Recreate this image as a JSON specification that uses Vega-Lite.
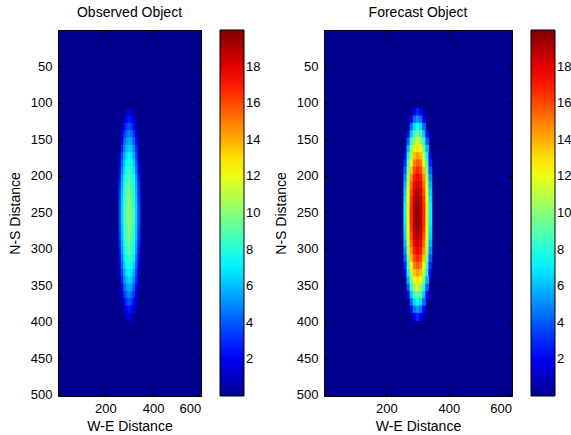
{
  "$schema": "https://vega.github.io/schema/vega-lite/v6.json",
  "autosize": "none",
  "padding": {"left": 58, "top": 30, "right": 513, "bottom": 405},
  "background": "white",
  "data": {"values": [
    {"x":285,"y":108,"f":2.2,"o":1.1},{"x":295,"y":108,"f":3.0,"o":1.5},{"x":305,"y":108,"f":2.2,"o":1.1},
    {"x":275,"y":118,"f":2.2,"o":1.1},{"x":285,"y":118,"f":4.5,"o":2.3},{"x":295,"y":118,"f":5.3,"o":2.7},{"x":305,"y":118,"f":4.5,"o":2.3},{"x":315,"y":118,"f":2.2,"o":1.1},
    {"x":275,"y":128,"f":4.3,"o":2.2},{"x":285,"y":128,"f":6.7,"o":3.4},{"x":295,"y":128,"f":7.5,"o":3.8},{"x":305,"y":128,"f":6.7,"o":3.4},{"x":315,"y":128,"f":4.3,"o":2.2},
    {"x":265,"y":138,"f":2.3,"o":1.2},{"x":275,"y":138,"f":6.3,"o":3.2},{"x":285,"y":138,"f":8.7,"o":4.4},{"x":295,"y":138,"f":9.5,"o":4.8},{"x":305,"y":138,"f":8.7,"o":4.4},{"x":315,"y":138,"f":6.3,"o":3.2},{"x":325,"y":138,"f":2.3,"o":1.2},
    {"x":265,"y":148,"f":4.1,"o":2.1},{"x":275,"y":148,"f":8.1,"o":4.1},{"x":285,"y":148,"f":10.5,"o":5.3},{"x":295,"y":148,"f":11.3,"o":5.7},{"x":305,"y":148,"f":10.5,"o":5.3},{"x":315,"y":148,"f":8.1,"o":4.1},{"x":325,"y":148,"f":4.1,"o":2.1},
    {"x":265,"y":158,"f":5.8,"o":2.9},{"x":275,"y":158,"f":9.7,"o":4.9},{"x":285,"y":158,"f":12.1,"o":6.1},{"x":295,"y":158,"f":12.9,"o":6.5},{"x":305,"y":158,"f":12.1,"o":6.1},{"x":315,"y":158,"f":9.7,"o":4.9},{"x":325,"y":158,"f":5.8,"o":2.9},
    {"x":255,"y":168,"f":1.7,"o":0.8},{"x":265,"y":168,"f":7.2,"o":3.6},{"x":275,"y":168,"f":11.2,"o":5.6},{"x":285,"y":168,"f":13.6,"o":6.8},{"x":295,"y":168,"f":14.4,"o":7.2},{"x":305,"y":168,"f":13.6,"o":6.8},{"x":315,"y":168,"f":11.2,"o":5.6},{"x":325,"y":168,"f":7.2,"o":3.6},{"x":335,"y":168,"f":1.7,"o":0.8},
    {"x":255,"y":178,"f":2.9,"o":1.5},{"x":265,"y":178,"f":8.5,"o":4.3},{"x":275,"y":178,"f":12.5,"o":6.3},{"x":285,"y":178,"f":14.9,"o":7.5},{"x":295,"y":178,"f":15.7,"o":7.9},{"x":305,"y":178,"f":14.9,"o":7.5},{"x":315,"y":178,"f":12.5,"o":6.3},{"x":325,"y":178,"f":8.5,"o":4.3},{"x":335,"y":178,"f":2.9,"o":1.5},
    {"x":255,"y":188,"f":4.1,"o":2.0},{"x":265,"y":188,"f":9.6,"o":4.8},{"x":275,"y":188,"f":13.6,"o":6.8},{"x":285,"y":188,"f":16.0,"o":8.0},{"x":295,"y":188,"f":16.8,"o":8.4},{"x":305,"y":188,"f":16.0,"o":8.0},{"x":315,"y":188,"f":13.6,"o":6.8},{"x":325,"y":188,"f":9.6,"o":4.8},{"x":335,"y":188,"f":4.1,"o":2.0},
    {"x":255,"y":198,"f":5.0,"o":2.5},{"x":265,"y":198,"f":10.6,"o":5.3},{"x":275,"y":198,"f":14.6,"o":7.3},{"x":285,"y":198,"f":17.0,"o":8.5},{"x":295,"y":198,"f":17.7,"o":8.9},{"x":305,"y":198,"f":17.0,"o":8.5},{"x":315,"y":198,"f":14.6,"o":7.3},{"x":325,"y":198,"f":10.6,"o":5.3},{"x":335,"y":198,"f":5.0,"o":2.5},
    {"x":255,"y":208,"f":5.8,"o":2.9},{"x":265,"y":208,"f":11.4,"o":5.7},{"x":275,"y":208,"f":15.3,"o":7.7},{"x":285,"y":208,"f":17.7,"o":8.9},{"x":295,"y":208,"f":18.5,"o":9.3},{"x":305,"y":208,"f":17.7,"o":8.9},{"x":315,"y":208,"f":15.3,"o":7.7},{"x":325,"y":208,"f":11.4,"o":5.7},{"x":335,"y":208,"f":5.8,"o":2.9},
    {"x":255,"y":218,"f":6.4,"o":3.2},{"x":265,"y":218,"f":12.0,"o":6.0},{"x":275,"y":218,"f":15.9,"o":8.0},{"x":285,"y":218,"f":18.3,"o":9.2},{"x":295,"y":218,"f":19.1,"o":9.6},{"x":305,"y":218,"f":18.3,"o":9.2},{"x":315,"y":218,"f":15.9,"o":8.0},{"x":325,"y":218,"f":12.0,"o":6.0},{"x":335,"y":218,"f":6.4,"o":3.2},
    {"x":255,"y":228,"f":6.8,"o":3.4},{"x":265,"y":228,"f":12.4,"o":6.2},{"x":275,"y":228,"f":16.4,"o":8.2},{"x":285,"y":228,"f":18.8,"o":9.4},{"x":295,"y":228,"f":19.6,"o":9.8},{"x":305,"y":228,"f":18.8,"o":9.4},{"x":315,"y":228,"f":16.4,"o":8.2},{"x":325,"y":228,"f":12.4,"o":6.2},{"x":335,"y":228,"f":6.8,"o":3.4},
    {"x":255,"y":238,"f":7.1,"o":3.6},{"x":265,"y":238,"f":12.7,"o":6.4},{"x":275,"y":238,"f":16.6,"o":8.4},{"x":285,"y":238,"f":19.0,"o":9.6},{"x":295,"y":238,"f":19.8,"o":10.0},{"x":305,"y":238,"f":19.0,"o":9.6},{"x":315,"y":238,"f":16.6,"o":8.4},{"x":325,"y":238,"f":12.7,"o":6.4},{"x":335,"y":238,"f":7.1,"o":3.6},
    {"x":255,"y":248,"f":7.2,"o":3.6},{"x":265,"y":248,"f":12.7,"o":6.4},{"x":275,"y":248,"f":16.7,"o":8.4},{"x":285,"y":248,"f":19.1,"o":9.6},{"x":295,"y":248,"f":19.9,"o":10.0},{"x":305,"y":248,"f":19.1,"o":9.6},{"x":315,"y":248,"f":16.7,"o":8.4},{"x":325,"y":248,"f":12.7,"o":6.4},{"x":335,"y":248,"f":7.2,"o":3.6},
    {"x":255,"y":258,"f":7.1,"o":3.6},{"x":265,"y":258,"f":12.7,"o":6.4},{"x":275,"y":258,"f":16.6,"o":8.4},{"x":285,"y":258,"f":19.0,"o":9.6},{"x":295,"y":258,"f":19.8,"o":10.0},{"x":305,"y":258,"f":19.0,"o":9.6},{"x":315,"y":258,"f":16.6,"o":8.4},{"x":325,"y":258,"f":12.7,"o":6.4},{"x":335,"y":258,"f":7.1,"o":3.6},
    {"x":255,"y":268,"f":6.8,"o":3.4},{"x":265,"y":268,"f":12.4,"o":6.2},{"x":275,"y":268,"f":16.4,"o":8.2},{"x":285,"y":268,"f":18.8,"o":9.4},{"x":295,"y":268,"f":19.6,"o":9.8},{"x":305,"y":268,"f":18.8,"o":9.4},{"x":315,"y":268,"f":16.4,"o":8.2},{"x":325,"y":268,"f":12.4,"o":6.2},{"x":335,"y":268,"f":6.8,"o":3.4},
    {"x":255,"y":278,"f":6.4,"o":3.2},{"x":265,"y":278,"f":12.0,"o":6.0},{"x":275,"y":278,"f":15.9,"o":8.0},{"x":285,"y":278,"f":18.3,"o":9.2},{"x":295,"y":278,"f":19.1,"o":9.6},{"x":305,"y":278,"f":18.3,"o":9.2},{"x":315,"y":278,"f":15.9,"o":8.0},{"x":325,"y":278,"f":12.0,"o":6.0},{"x":335,"y":278,"f":6.4,"o":3.2},
    {"x":255,"y":288,"f":5.8,"o":2.9},{"x":265,"y":288,"f":11.4,"o":5.7},{"x":275,"y":288,"f":15.3,"o":7.7},{"x":285,"y":288,"f":17.7,"o":8.9},{"x":295,"y":288,"f":18.5,"o":9.3},{"x":305,"y":288,"f":17.7,"o":8.9},{"x":315,"y":288,"f":15.3,"o":7.7},{"x":325,"y":288,"f":11.4,"o":5.7},{"x":335,"y":288,"f":5.8,"o":2.9},
    {"x":255,"y":298,"f":5.0,"o":2.5},{"x":265,"y":298,"f":10.6,"o":5.3},{"x":275,"y":298,"f":14.6,"o":7.3},{"x":285,"y":298,"f":17.0,"o":8.5},{"x":295,"y":298,"f":17.7,"o":8.9},{"x":305,"y":298,"f":17.0,"o":8.5},{"x":315,"y":298,"f":14.6,"o":7.3},{"x":325,"y":298,"f":10.6,"o":5.3},{"x":335,"y":298,"f":5.0,"o":2.5},
    {"x":255,"y":308,"f":4.1,"o":2.0},{"x":265,"y":308,"f":9.6,"o":4.8},{"x":275,"y":308,"f":13.6,"o":6.8},{"x":285,"y":308,"f":16.0,"o":8.0},{"x":295,"y":308,"f":16.8,"o":8.4},{"x":305,"y":308,"f":16.0,"o":8.0},{"x":315,"y":308,"f":13.6,"o":6.8},{"x":325,"y":308,"f":9.6,"o":4.8},{"x":335,"y":308,"f":4.1,"o":2.0},
    {"x":255,"y":318,"f":2.9,"o":1.5},{"x":265,"y":318,"f":8.5,"o":4.3},{"x":275,"y":318,"f":12.5,"o":6.3},{"x":285,"y":318,"f":14.9,"o":7.5},{"x":295,"y":318,"f":15.7,"o":7.9},{"x":305,"y":318,"f":14.9,"o":7.5},{"x":315,"y":318,"f":12.5,"o":6.3},{"x":325,"y":318,"f":8.5,"o":4.3},{"x":335,"y":318,"f":2.9,"o":1.5},
    {"x":255,"y":328,"f":1.7,"o":0.8},{"x":265,"y":328,"f":7.2,"o":3.6},{"x":275,"y":328,"f":11.2,"o":5.6},{"x":285,"y":328,"f":13.6,"o":6.8},{"x":295,"y":328,"f":14.4,"o":7.2},{"x":305,"y":328,"f":13.6,"o":6.8},{"x":315,"y":328,"f":11.2,"o":5.6},{"x":325,"y":328,"f":7.2,"o":3.6},{"x":335,"y":328,"f":1.7,"o":0.8},
    {"x":265,"y":338,"f":5.8,"o":2.9},{"x":275,"y":338,"f":9.7,"o":4.9},{"x":285,"y":338,"f":12.1,"o":6.1},{"x":295,"y":338,"f":12.9,"o":6.5},{"x":305,"y":338,"f":12.1,"o":6.1},{"x":315,"y":338,"f":9.7,"o":4.9},{"x":325,"y":338,"f":5.8,"o":2.9},
    {"x":265,"y":348,"f":4.1,"o":2.1},{"x":275,"y":348,"f":8.1,"o":4.1},{"x":285,"y":348,"f":10.5,"o":5.3},{"x":295,"y":348,"f":11.3,"o":5.7},{"x":305,"y":348,"f":10.5,"o":5.3},{"x":315,"y":348,"f":8.1,"o":4.1},{"x":325,"y":348,"f":4.1,"o":2.1},
    {"x":265,"y":358,"f":2.3,"o":1.2},{"x":275,"y":358,"f":6.3,"o":3.2},{"x":285,"y":358,"f":8.7,"o":4.4},{"x":295,"y":358,"f":9.5,"o":4.8},{"x":305,"y":358,"f":8.7,"o":4.4},{"x":315,"y":358,"f":6.3,"o":3.2},{"x":325,"y":358,"f":2.3,"o":1.2},
    {"x":275,"y":368,"f":4.3,"o":2.2},{"x":285,"y":368,"f":6.7,"o":3.4},{"x":295,"y":368,"f":7.5,"o":3.8},{"x":305,"y":368,"f":6.7,"o":3.4},{"x":315,"y":368,"f":4.3,"o":2.2},
    {"x":275,"y":378,"f":2.2,"o":1.1},{"x":285,"y":378,"f":4.5,"o":2.3},{"x":295,"y":378,"f":5.3,"o":2.7},{"x":305,"y":378,"f":4.5,"o":2.3},{"x":315,"y":378,"f":2.2,"o":1.1},
    {"x":285,"y":388,"f":2.2,"o":1.1},{"x":295,"y":388,"f":3.0,"o":1.5},{"x":305,"y":388,"f":2.2,"o":1.1}
  ]},
  "hconcat": [
    {
      "width": 143,
      "height": 366,
      "title": "Observed Object",
      "layer": [
        {
          "mark": {"type": "rect", "binSpacing": 0, "x2Offset": -0.7, "y2Offset": 0.7},
          "encoding": {
            "x": {"field": "x", "type": "quantitative", "bin": {"binned": true, "step": 10}, "scale": {"domain": [0.5, 601.5], "nice": false, "zero": false}, "axis": {"orient": "bottom", "title": "W-E Distance", "values": [200, 400, 600]}},
            "y": {"field": "y", "type": "quantitative", "bin": {"binned": true, "step": 10}, "scale": {"domain": [0.5, 501.5], "reverse": true, "nice": false, "zero": false}, "axis": {"orient": "left", "title": "N-S Distance", "values": [50, 100, 150, 200, 250, 300, 350, 400, 450, 500]}},
            "color": {"field": "o", "type": "quantitative", "scale": {"domain": [0, 2.222, 7.302, 12.381, 17.46, 20], "range": ["#00008F", "#0000FF", "#00FFFF", "#FFFF00", "#FF0000", "#800000"], "interpolate": "rgb", "clamp": true}, "legend": {"type": "gradient", "title": null, "tickCount": 10, "labelExpr": "datum.value > 0.5 && datum.value < 19.5 ? datum.label : ''"}}
          }
        },
        {
          "mark": {"type": "point", "opacity": 0},
          "encoding": {
            "x": {"field": "x", "type": "quantitative", "scale": {"domain": [0.5, 601.5], "nice": false, "zero": false}, "axis": {"orient": "top", "labels": false, "title": null, "values": [200, 400, 600]}},
            "y": {"field": "y", "type": "quantitative", "scale": {"domain": [0.5, 501.5], "reverse": true, "nice": false, "zero": false}, "axis": {"orient": "right", "labels": false, "title": null, "values": [50, 100, 150, 200, 250, 300, 350, 400, 450, 500]}}
          }
        }
      ],
      "resolve": {"scale": {"x": "independent", "y": "independent"}}
    },
    {
      "width": 188,
      "height": 366,
      "title": "Forecast Object",
      "layer": [
        {
          "mark": {"type": "rect", "binSpacing": 0, "x2Offset": -0.7, "y2Offset": 0.7},
          "encoding": {
            "x": {"field": "x", "type": "quantitative", "bin": {"binned": true, "step": 10}, "scale": {"domain": [0.5, 601.5], "nice": false, "zero": false}, "axis": {"orient": "bottom", "title": "W-E Distance", "values": [200, 400, 600]}},
            "y": {"field": "y", "type": "quantitative", "bin": {"binned": true, "step": 10}, "scale": {"domain": [0.5, 501.5], "reverse": true, "nice": false, "zero": false}, "axis": {"orient": "left", "title": "N-S Distance", "values": [50, 100, 150, 200, 250, 300, 350, 400, 450, 500]}},
            "color": {"field": "f", "type": "quantitative", "scale": {"domain": [0, 2.222, 7.302, 12.381, 17.46, 20], "range": ["#00008F", "#0000FF", "#00FFFF", "#FFFF00", "#FF0000", "#800000"], "interpolate": "rgb", "clamp": true}, "legend": {"type": "gradient", "title": null, "tickCount": 10, "labelExpr": "datum.value > 0.5 && datum.value < 19.5 ? datum.label : ''"}}
          }
        },
        {
          "mark": {"type": "point", "opacity": 0},
          "encoding": {
            "x": {"field": "x", "type": "quantitative", "scale": {"domain": [0.5, 601.5], "nice": false, "zero": false}, "axis": {"orient": "top", "labels": false, "title": null, "values": [200, 400, 600]}},
            "y": {"field": "y", "type": "quantitative", "scale": {"domain": [0.5, 501.5], "reverse": true, "nice": false, "zero": false}, "axis": {"orient": "right", "labels": false, "title": null, "values": [50, 100, 150, 200, 250, 300, 350, 400, 450, 500]}}
          }
        }
      ],
      "resolve": {"scale": {"x": "independent", "y": "independent"}}
    }
  ],
  "spacing": 123,
  "bounds": "flush",
  "resolve": {"scale": {"color": "independent"}, "legend": {"color": "independent"}},
  "config": {
    "font": "Liberation Sans",
    "view": {"stroke": "black", "strokeWidth": 1, "fill": "#00008F"},
    "axis": {"grid": false, "domain": false, "ticks": true, "tickSize": -4, "tickColor": "black", "labelPadding": 10, "labelFontSize": 13, "labelColor": "black", "labelFont": "Liberation Sans", "titleFont": "Liberation Sans", "titleFontSize": 14, "titleFontWeight": "normal", "titleColor": "black"},
    "axisX": {"titlePadding": 4},
    "axisY": {"titlePadding": 8},
    "title": {"fontSize": 14, "fontWeight": "normal", "font": "Liberation Sans", "color": "black", "offset": 10, "baseline": "alphabetic"},
    "legend": {"orient": "right", "offset": 18, "gradientLength": 366, "gradientThickness": 24, "gradientStrokeColor": "black", "gradientStrokeWidth": 1, "labelFontSize": 13, "labelColor": "black", "labelFont": "Liberation Sans", "labelOffset": 4, "labelOverlap": false, "padding": 0}
  }
}
